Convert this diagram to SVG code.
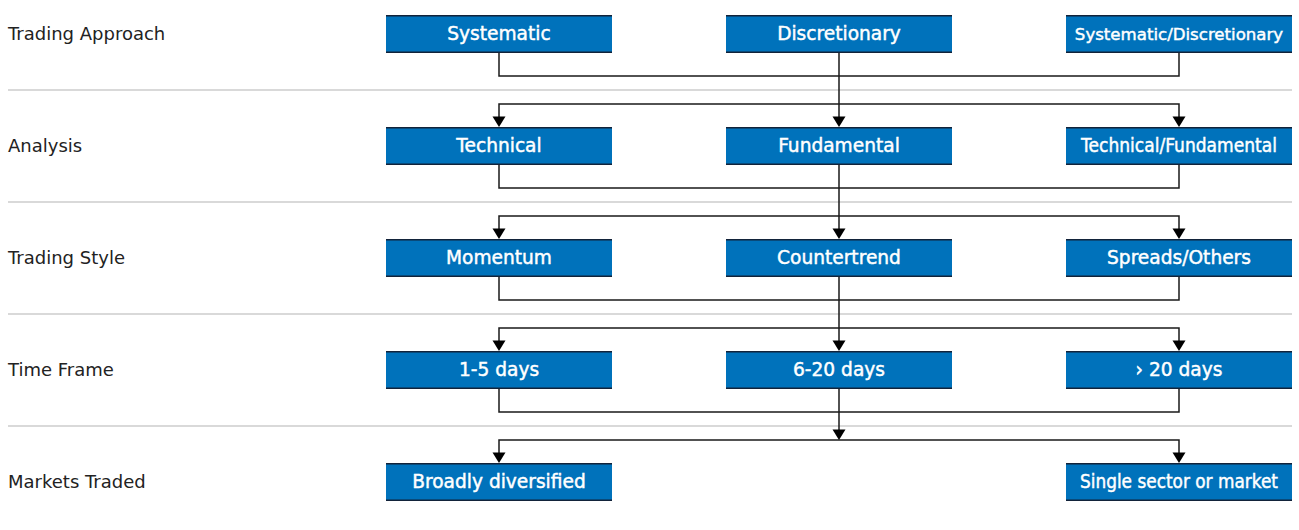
<svg xmlns="http://www.w3.org/2000/svg" width="1299" height="530" viewBox="0 0 1299 530">
<style>
.lbl{font-family:"DejaVu Sans","Liberation Sans",sans-serif;font-size:18px;fill:#222}
.bt{font-family:"DejaVu Sans","Liberation Sans",sans-serif;font-size:18.6px;fill:#fff;stroke:#fff;stroke-width:0.45;text-anchor:middle}
.bt.sm{font-size:16.6px}
.box{fill:#0072bb}
.edge{stroke:#12233a;stroke-width:1.6}
.sep{stroke:#d9d9d9;stroke-width:2}
.con{fill:none;stroke:#1a1a1a;stroke-width:1.5}
</style>
<defs>
<g id="bx"><rect class="box" x="0" y="0" width="226" height="38"/><line class="edge" x1="0" y1="0.8" x2="226" y2="0.8"/><line class="edge" x1="0" y1="37.2" x2="226" y2="37.2"/></g>
</defs>
<rect width="1299" height="530" fill="#fff"/>
<g id="separators">
<line class="sep" x1="8" y1="90" x2="1292" y2="90"/>
<line class="sep" x1="8" y1="202" x2="1292" y2="202"/>
<line class="sep" x1="8" y1="314" x2="1292" y2="314"/>
<line class="sep" x1="8" y1="426" x2="1292" y2="426"/>
</g>
<g id="row-labels">
<text class="lbl" x="8" y="40">Trading Approach</text>
<text class="lbl" x="8" y="152">Analysis</text>
<text class="lbl" x="8" y="264">Trading Style</text>
<text class="lbl" x="8" y="376">Time Frame</text>
<text class="lbl" x="8" y="488">Markets Traded</text>
</g>
<g id="connectors">
<path class="con" d="M499,53 V76 H1179 V53 M839,53 V117"/>
<path class="con" d="M499,117 V104 H1179 V117"/>
<path class="con" d="M499,165 V188 H1179 V165 M839,165 V229"/>
<path class="con" d="M499,229 V216 H1179 V229"/>
<path class="con" d="M499,277 V300 H1179 V277 M839,277 V341"/>
<path class="con" d="M499,341 V328 H1179 V341"/>
<path class="con" d="M499,389 V412 H1179 V389 M839,389 V430"/>
<path class="con" d="M499,453 V440 H1179 V453"/>
<g fill="#000">
<path d="M492.5,116.5 H505.5 L499,127 Z"/><path d="M832.5,116.5 H845.5 L839,127 Z"/><path d="M1172.5,116.5 H1185.5 L1179,127 Z"/>
<path d="M492.5,228.5 H505.5 L499,239 Z"/><path d="M832.5,228.5 H845.5 L839,239 Z"/><path d="M1172.5,228.5 H1185.5 L1179,239 Z"/>
<path d="M492.5,340.5 H505.5 L499,351 Z"/><path d="M832.5,340.5 H845.5 L839,351 Z"/><path d="M1172.5,340.5 H1185.5 L1179,351 Z"/>
<path d="M832.5,429.5 H845.5 L839,440 Z"/>
<path d="M492.5,452.5 H505.5 L499,463 Z"/><path d="M1172.5,452.5 H1185.5 L1179,463 Z"/>
</g>
</g>
<g id="n-systematic"><use href="#bx" x="386" y="15"/><text class="bt" x="499" y="40">Systematic</text></g>
<g id="n-discretionary"><use href="#bx" x="726" y="15"/><text class="bt" x="839" y="40">Discretionary</text></g>
<g id="n-sysdisc"><use href="#bx" x="1066" y="15"/><text class="bt sm" x="1179" y="40">Systematic/Discretionary</text></g>
<g id="n-technical"><use href="#bx" x="386" y="127"/><text class="bt" x="499" y="152">Technical</text></g>
<g id="n-fundamental"><use href="#bx" x="726" y="127"/><text class="bt" x="839" y="152">Fundamental</text></g>
<g id="n-techfund"><use href="#bx" x="1066" y="127"/><text class="bt" x="1179" y="152" textLength="196" lengthAdjust="spacingAndGlyphs">Technical/Fundamental</text></g>
<g id="n-momentum"><use href="#bx" x="386" y="239"/><text class="bt" x="499" y="264">Momentum</text></g>
<g id="n-countertrend"><use href="#bx" x="726" y="239"/><text class="bt" x="839" y="264">Countertrend</text></g>
<g id="n-spreads"><use href="#bx" x="1066" y="239"/><text class="bt" x="1179" y="264">Spreads/Others</text></g>
<g id="n-1-5"><use href="#bx" x="386" y="351"/><text class="bt" x="499" y="376">1-5 days</text></g>
<g id="n-6-20"><use href="#bx" x="726" y="351"/><text class="bt" x="839" y="376">6-20 days</text></g>
<g id="n-20plus"><use href="#bx" x="1066" y="351"/><text class="bt" x="1179" y="376">› 20 days</text></g>
<g id="n-broad"><use href="#bx" x="386" y="463"/><text class="bt" x="499" y="488">Broadly diversified</text></g>
<g id="n-single"><use href="#bx" x="1066" y="463"/><text class="bt" x="1179" y="488" textLength="198" lengthAdjust="spacingAndGlyphs">Single sector or market</text></g>
</svg>
